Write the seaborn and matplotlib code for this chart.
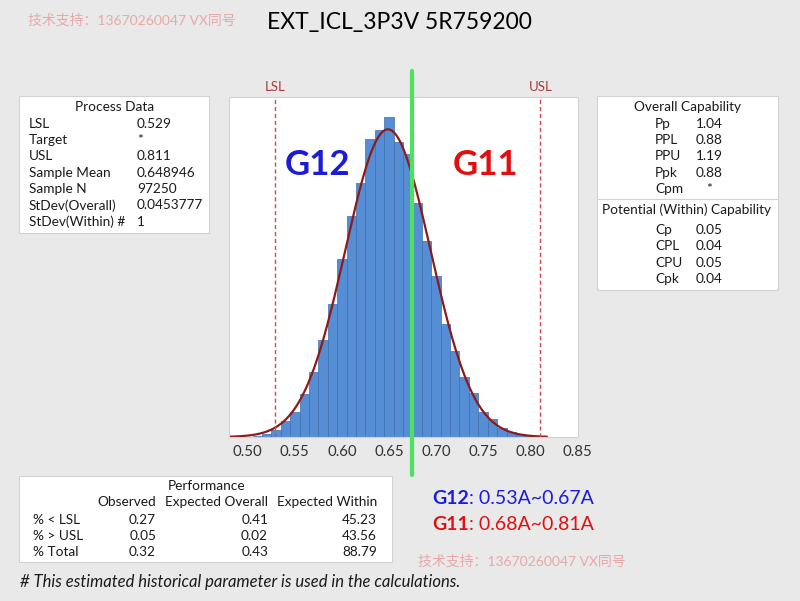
import numpy as np
import pandas as pd
import matplotlib
matplotlib.use("Agg")
import matplotlib.pyplot as plt
from matplotlib.patches import Rectangle
from matplotlib.lines import Line2D
import seaborn as sns

# histogram (bin width 0.01, counts)
bin_centers = [0.51, 0.52, 0.53, 0.54, 0.55, 0.56, 0.57, 0.58, 0.59, 0.60,
               0.61, 0.62, 0.63, 0.64, 0.65, 0.66, 0.67, 0.68, 0.69, 0.70,
               0.71, 0.72, 0.73, 0.74, 0.75, 0.76, 0.77, 0.78, 0.79, 0.80]
counts = [28, 83, 194, 443, 693, 1191, 1801, 2688, 3685, 4960,
          6151, 7065, 8284, 8534, 8894, 8201, 7869, 6511, 5458, 4461,
          3131, 2383, 1662, 1219, 693, 499, 249, 139, 55, 28]
x_ticks = [0.50, 0.55, 0.60, 0.65, 0.70, 0.75, 0.80, 0.85]

lsl = 0.529
usl = 0.811
split_value = 0.675
sample_mean = 0.648946
stdev_overall = 0.0453777
sample_n = 97250

process_labels = ["LSL", "Target", "USL", "Sample Mean", "Sample N", "StDev(Overall)", "StDev(Within) #"]
process_values = ["0.529", "*", "0.811", "0.648946", "97250", "0.0453777", "1"]
overall_labels = ["Pp", "PPL", "PPU", "Ppk", "Cpm"]
overall_values = ["1.04", "0.88", "1.19", "0.88", "*"]
within_labels = ["Cp", "CPL", "CPU", "Cpk"]
within_values = ["0.05", "0.04", "0.05", "0.04"]
perf_rows = ["% < LSL", "% > USL", "% Total"]
perf_headers = ["Observed", "Expected Overall", "Expected Within"]
perf_observed = ["0.27", "0.05", "0.32"]
perf_exp_overall = ["0.41", "0.02", "0.43"]
perf_exp_within = ["45.23", "43.56", "88.79"]

title = "EXT_ICL_3P3V 5R759200"
watermark = "技术支持：13670260047 VX同号"
footnote = "# This estimated historical parameter is used in the calculations."

BG = "#e9e9e9"
BLUE = "#1c1cd6"
RED = "#e01010"

sns.set_theme(style="white")
plt.rcParams['font.family'] = ['Lato', 'Noto Sans CJK SC', 'DejaVu Sans']

W, H = 800, 601
fig = plt.figure(figsize=(8, 6.01), dpi=100, facecolor=BG)


def fx(x):
    return x / W


def fy(y):
    return 1 - y / H


def txt(x, y, s, **kw):
    kw.setdefault("va", "center")
    kw.setdefault("fontsize", 9.8)
    kw.setdefault("color", "#1a1a1a")
    return fig.text(fx(x), fy(y), s, **kw)


def box(x0, y0, x1, y1):
    fig.add_artist(Rectangle((fx(x0), fy(y1)), (x1 - x0) / W, (y1 - y0) / H,
                             transform=fig.transFigure, facecolor="white",
                             edgecolor="#d2d2d2", lw=0.8, zorder=0))


# main histogram
ax = fig.add_axes([fx(229), fy(437), (578 - 229) / W, (437 - 97) / H])
ax.set_facecolor("white")
hist_df = pd.DataFrame({"value": bin_centers, "count": counts})
edges = [c - 0.005 for c in bin_centers] + [bin_centers[-1] + 0.005]
sns.histplot(data=hist_df, x="value", weights="count", bins=edges,
             color="#558ed5", edgecolor="#3f6fab", linewidth=0.5, alpha=1, ax=ax)

# normal fit from mean / stdev overall
xs = np.linspace(0.48, 0.818, 400)
fit = sample_n * 0.01 * np.exp(-0.5 * ((xs - sample_mean) / stdev_overall) ** 2) / (stdev_overall * np.sqrt(2 * np.pi))
sns.lineplot(x=xs, y=fit, color="#8e1b1b", lw=1.6, ax=ax)

ax.set_xlim(0.48, 0.851)
ax.set_ylim(0, 9448)
ax.set_xticks(x_ticks)
ax.set_xticklabels([f"{t:.2f}" for t in x_ticks])
ax.set_yticks([])
ax.set_xlabel("")
ax.set_ylabel("")
ax.tick_params(axis="x", length=0, pad=6, labelsize=10.8, labelcolor="#333333")
for sp in ax.spines.values():
    sp.set_color("#d2d2d2")
    sp.set_linewidth(0.8)

for v, lab in [(lsl, "LSL"), (usl, "USL")]:
    ax.axvline(v, color="#d24a4a", lw=1, ls=(0, (3, 2)))
    ax.text(v, 1.029, lab, transform=ax.get_xaxis_transform(), ha="center", va="center",
            color="#a83a3a", fontsize=9.5)

ax.axvline(split_value, ymin=-0.112, ymax=1.076, clip_on=False, color="#4ce35c", lw=3, zorder=5)
ax.text(0.5745, 0.8, "G12", transform=ax.get_xaxis_transform(), ha="center", va="center",
        color=BLUE, fontsize=25, fontweight="bold")
ax.text(0.753, 0.8, "G11", transform=ax.get_xaxis_transform(), ha="center", va="center",
        color=RED, fontsize=25, fontweight="bold")

# title and watermarks
txt(399, 22, title, ha="center", fontsize=16.5, color="black")
txt(28, 20, watermark, ha="left", fontsize=10, color="#e8a8a8")
txt(418, 561, watermark, ha="left", fontsize=10, color="#e8a8a8")

# Process Data
box(19, 96, 209, 233)
txt(115, 107, "Process Data", ha="center")
for i, (lab, val) in enumerate(zip(process_labels, process_values)):
    y = 123.5 + 16.4 * i
    txt(29, y, lab)
    txt(137, y, val)

# Overall / within capability
box(597, 96, 778, 290)
txt(687, 107, "Overall Capability", ha="center")
for i, (lab, val) in enumerate(zip(overall_labels, overall_values)):
    y = 123.5 + 16.4 * i
    txt(655, y, lab)
    txt(709, y, val, ha="center")
fig.add_artist(Line2D([fx(597), fx(778)], [fy(199.5), fy(199.5)], transform=fig.transFigure,
                      color="#d2d2d2", lw=0.8))
txt(687, 209.5, "Potential (Within) Capability", ha="center")
for i, (lab, val) in enumerate(zip(within_labels, within_values)):
    y = 230 + 16.4 * i
    txt(655, y, lab)
    txt(709, y, val, ha="center")

# Performance
box(19, 476, 392, 562)
txt(207, 486, "Performance", ha="center")
col_right = [156, 268, 377]
for hdr, xr in zip(perf_headers, col_right):
    txt(xr, 502, hdr, ha="right")
for i, row in enumerate(perf_rows):
    y = 519.5 + 16 * i
    txt(33, y, row)
    for vals, xr in zip([perf_observed, perf_exp_overall, perf_exp_within], col_right):
        txt(xr, y, vals[i], ha="right")

txt(20, 581.5, footnote, fontsize=12, style="italic", color="#1a1a1a")

# group legend
fig.canvas.draw()
renderer = fig.canvas.get_renderer()
for y, name, rng, col in [(498, "G12", ": 0.53A~0.67A", BLUE), (525, "G11", ": 0.68A~0.81A", RED)]:
    t = txt(432, y, name, fontsize=14, fontweight="bold", color=col)
    bb = t.get_window_extent(renderer)
    fig.text(bb.x1 / fig.bbox.width, fy(y), rng, va="center", fontsize=14, color=col)

fig.savefig("out.png", dpi=100, facecolor=BG)
